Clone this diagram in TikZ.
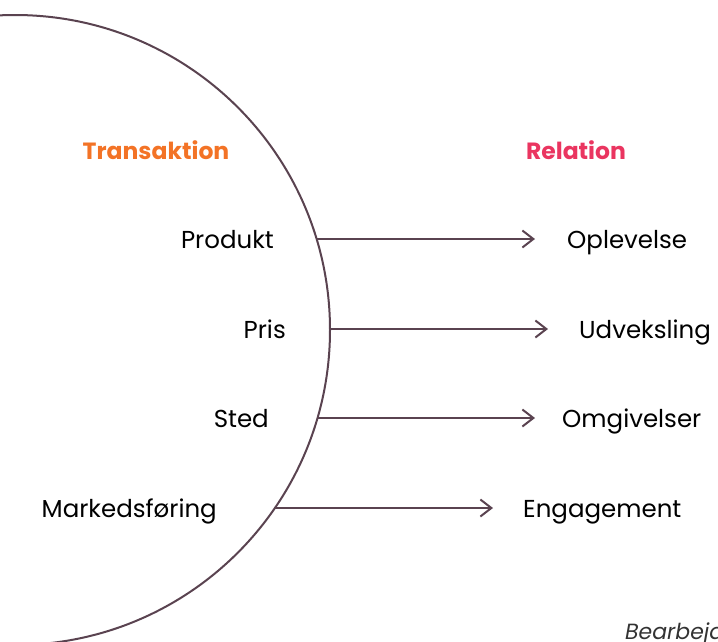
\documentclass[tikz,border=0pt]{standalone}
\usepackage{fontspec}
\setmainfont{Poppins}
\usetikzlibrary{arrows.meta}
\definecolor{plum}{HTML}{5A4350}
\definecolor{torange}{HTML}{F37326}
\definecolor{rpink}{HTML}{EA3560}
\definecolor{srcgray}{HTML}{333333}
\tikzset{
  conn/.style={draw=plum, line width=2pt, -{Straight Barb[length=11pt,width=17pt,line width=2pt]}},
  lbl/.style={font=\fontsize{24.5}{28}\selectfont, text=black, inner sep=0pt},
  head/.style={font=\fontsize{23.5}{27}\selectfont\bfseries, inner sep=0pt, anchor=base},
}
\begin{document}
\begin{tikzpicture}[x=1pt,y=-1pt]
\useasboundingbox (0,0) rectangle (718,641);
\clip (0,0) rectangle (718,641);
% big arc: centre (15,330), radius 315
\draw[plum, line width=2pt] (15,330) circle[radius=315];
\node[head, text=torange] (trans) at (156,159) {Transaktion};
\node[head, text=rpink] (rel) at (576,159) {Relation};
\node[lbl, anchor=base east] (produkt) at (274,248) {Produkt};
\node[lbl, anchor=base east] (pris) at (286,338) {Pris};
\node[lbl, anchor=base east] (sted) at (269,427) {Sted};
\node[lbl, anchor=base east] (mf) at (217,517) {Markedsføring};
\node[lbl, anchor=base west] (opl) at (567,248) {Oplevelse};
\node[lbl, anchor=base west] (udv) at (579,338) {Udveksling};
\node[lbl, anchor=base west] (omg) at (562,427) {Omgivelser};
\node[lbl, anchor=base west] (eng) at (523,517) {Engagement};
\coordinate (a1) at (316.6,239);
\coordinate (a2) at (330,329);
\coordinate (a3) at (317.5,418);
\coordinate (a4) at (275,508);
\draw[conn] (a1) -- ([xshift=-32pt]opl.west |- a1);
\draw[conn] (a2) -- ([xshift=-31pt]udv.west |- a2);
\draw[conn] (a3) -- ([xshift=-27pt]omg.west |- a3);
\draw[conn] (a4) -- ([xshift=-30pt]eng.west |- a4);
\node[font=\fontsize{22}{24}\selectfont\itshape, text=srcgray, anchor=base west, inner sep=0pt] (src) at (625,639) {Bearbejdet};
\end{tikzpicture}
\end{document}
